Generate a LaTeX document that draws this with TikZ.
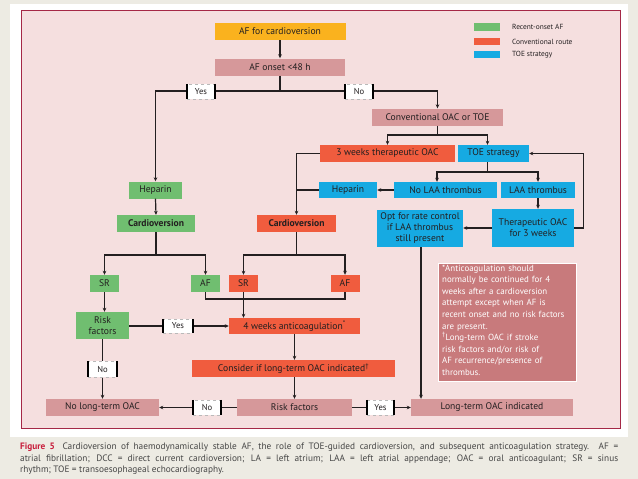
\documentclass[tikz,border=0pt]{standalone}
\usepackage{fontspec}
\setmainfont{PT Sans}
\usetikzlibrary{arrows.meta}
\definecolor{bgout}{RGB}{237,235,227}
\definecolor{panel}{RGB}{245,223,223}
\definecolor{panelborder}{RGB}{165,40,70}
\definecolor{corange}{RGB}{250,178,30}
\definecolor{cpink}{RGB}{214,152,154}
\definecolor{cgreen}{RGB}{112,190,112}
\definecolor{cred}{RGB}{240,92,62}
\definecolor{cblue}{RGB}{22,170,226}
\definecolor{cnote}{RGB}{200,122,124}
\definecolor{txt}{RGB}{35,31,32}
\definecolor{capred}{RGB}{200,30,60}
\definecolor{capgray}{RGB}{70,70,70}
\newcommand{\fsnode}{\fontsize{9.6}{11}\selectfont}
\begin{document}
\begin{tikzpicture}[x=1pt,y=-1pt,
  box/.style={inner sep=0pt, minimum height=17pt, font=\fsnode, text=txt, align=center},
  conn/.style={draw=txt, line width=1.2pt},
  arr/.style={conn, -{Stealth[length=4pt,width=3.6pt]}},
  barline/.style={draw=black, solid, line width=1.8pt},
  lbl/.style={fill=white, draw=gray!55, dashed, line width=0.4pt, inner sep=0pt,
    minimum height=15pt, font=\fontsize{8.6}{10}\selectfont, text=txt,
    append after command={(\tikzlastnode.north west) edge[barline] (\tikzlastnode.south west)
      (\tikzlastnode.north east) edge[barline] (\tikzlastnode.south east)}},
  legtxt/.style={inner sep=0pt, anchor=west, font=\fontsize{7.4}{8}\selectfont, text=txt}
]
\useasboundingbox (0,0) rectangle (638,479);
\fill[bgout] (0,0) rectangle (638,479);
\fill[white] (10,4) rectangle (628,437);
\filldraw[fill=panel, draw=panelborder, line width=0.6pt] (21,10) rectangle (620,428);

% legend
\fill[cgreen] (474,23) rectangle (500,31);
\fill[cred] (474,38) rectangle (500,45);
\fill[cblue] (474,51) rectangle (500,58);
\node[legtxt] (lg1) at (512,27) {Recent-onset AF};
\node[legtxt] (lg2) at (512,41.5) {Conventional route};
\node[legtxt] (lg3) at (512,54.5) {TOE strategy};

% coordinates for branch levels
\coordinate (j1) at (0,91);
\coordinate (j2) at (0,135);
\coordinate (j3) at (0,172);
\coordinate (j4) at (0,255);
\coordinate (j5) at (0,299);

% nodes
\node[box, fill=corange, minimum width=131pt] (start) at (280,31.5) {AF for cardioversion};
\node[box, fill=cpink, minimum width=130pt] (onset) at (280,67) {AF onset <48 h};
\node[box, fill=cpink, minimum width=131pt] (conv) at (437.5,117) {Conventional OAC or TOE};
\node[box, fill=cred, minimum width=135pt] (wk3) at (387.5,153.5) {3 weeks therapeutic OAC};
\node[box, fill=cblue, minimum width=71pt] (toe) at (493.5,153.5) {TOE strategy};
\node[box, fill=cblue, minimum width=58pt, minimum height=16pt] (hepB) at (348,190) {Heparin};
\node[box, fill=cblue, minimum width=103pt, minimum height=16pt] (nolaa) at (445.5,190) {No LAA thrombus};
\node[box, fill=cblue, minimum width=74pt, minimum height=16pt] (laa) at (538,190) {LAA thrombus};
\node[box, fill=cblue, minimum width=86pt, minimum height=37pt] (opt) at (420,228.5) {Opt for rate control\\if LAA thrombus\\still present};
\node[box, fill=cblue, minimum width=82pt, minimum height=38pt] (ther) at (533,228) {Therapeutic OAC\\for 3 weeks};
\node[box, fill=cgreen, minimum width=53pt] (hepG) at (155.5,190) {Heparin};
\node[box, fill=cgreen, minimum width=78pt, font=\fsnode\bfseries] (cvG) at (156,223.5) {Cardioversion};
\node[box, fill=cred, minimum width=79pt, font=\fsnode\bfseries] (cvR) at (296.5,223.5) {Cardioversion};
\node[box, fill=cgreen, minimum width=29pt] (srG) at (104.5,283.5) {SR};
\node[box, fill=cgreen, minimum width=29pt] (afG) at (205.5,283.5) {AF};
\node[box, fill=cred, minimum width=29pt] (srR) at (243.5,283.5) {SR};
\node[box, fill=cred, minimum width=29pt] (afR) at (345,283.5) {AF};
\node[box, fill=cgreen, minimum width=53pt, minimum height=27pt] (rfG) at (102.5,325.5) {Risk\\factors};
\node[box, fill=cred, minimum width=131pt, minimum height=16pt] (wk4) at (294.5,326) {4 weeks anticoagulation\textsuperscript{*}};
\node[box, fill=cred, minimum width=203pt] (cons) at (293.5,368.5) {Consider if long-term OAC indicated\textsuperscript{†}};
\node[box, fill=cpink, minimum width=115pt] (rfP) at (294.5,407.5) {Risk factors};
\node[box, fill=cpink, minimum width=113pt] (nolt) at (102.5,407.5) {No long-term OAC};
\node[box, fill=cpink, minimum width=162pt] (lt) at (492,407.5) {Long-term OAC indicated};
\node[fill=cnote, draw=white, line width=0.8pt, minimum width=138pt, minimum height=118pt, inner sep=0pt] (note) at (507,322) {};
\node[inner sep=0pt, anchor=north west, text width=134pt, align=left, text=white,
  font=\fontsize{8.9}{11.6}\selectfont] (notetxt) at (442,264.5) {*Anticoagulation should\\normally be continued for 4\\weeks after a cardioversion\\attempt except when AF is\\recent onset and no risk factors\\are present.\\\textsuperscript{†}Long-term OAC if stroke\\risk factors and/or risk of\\AF recurrence/presence of\\thrombus.};

% connectors
\draw[arr] (start.south) -- (onset.north);
\draw[conn] (onset.south) -- (onset.south |- j1);
\draw[arr] (onset.south |- j1) -| (hepG.north);
\draw[arr] (onset.south |- j1) -| (conv.north);
\draw[conn] (conv.south) -- (conv.south |- j2);
\draw[arr] (conv.south |- j2) -| (wk3.north);
\coordinate (toeN) at ([xshift=-6pt]toe.north);
\coordinate (toeS) at ([xshift=-6pt]toe.south);
\coordinate (nolaaN) at ([xshift=-8.5pt]nolaa.north);
\draw[arr] (conv.south |- j2) -| (toeN);
\draw[arr] (wk3.west) -| (cvR.north);
\draw[conn] (hepB.west) -- (hepB.west -| cvR.north);
\draw[arr] (nolaa.west) -- (hepB.east);
\draw[conn] (toeS) -- (toeS |- j3);
\draw[arr] (toeS |- j3) -| (nolaaN);
\draw[arr] (toeS |- j3) -| (laa.north);
\draw[arr] (laa.south) -- (laa.south |- ther.north);
\draw[arr] (ther.west) -- (ther.west -| opt.east);
\draw[arr] (ther.east) -- ++(9,0) |- (toe.east);
\coordinate (optS) at ([xshift=1pt]opt.south);
\draw[arr] (optS) -- (optS |- lt.north);
\draw[arr] (hepG.south) -- (cvG.north);
\draw[conn] (cvG.south) -- (cvG.south |- j4);
\draw[arr] (cvG.south |- j4) -| (srG.north);
\draw[arr] (cvG.south |- j4) -| (afG.north);
\draw[conn] (cvR.south) -- (cvR.south |- j4);
\draw[arr] (cvR.south |- j4) -| (srR.north);
\draw[arr] (cvR.south |- j4) -| (afR.north);
\draw[conn] (afG.south) -- (afG.south |- j5) -- (afR.south |- j5) -- (afR.south);
\draw[arr] (srR.south) -- (srR.south |- wk4.north);
\draw[arr] (srG.south) -- (srG.south |- rfG.north);
\draw[arr] (rfG.east |- wk4.west) -- (wk4.west);
\draw[arr] (rfG.south) -- (rfG.south |- nolt.north);
\draw[arr] (wk4.south) -- (wk4.south |- cons.north);
\draw[arr] (cons.south -| rfP.north) -- (rfP.north);
\draw[arr] (rfP.west) -- (nolt.east);
\draw[arr] (rfP.east) -- (lt.west);

% decision labels
\node[lbl, minimum width=28pt] (yes1) at (201,91.5) {Yes};
\node[lbl, minimum width=28pt] (no1) at (359,91.5) {No};
\node[lbl, minimum width=30pt, minimum height=14pt] (yes2) at (178,326) {Yes};
\node[lbl, minimum width=29pt, minimum height=16pt] (no2) at (102.5,369) {No};
\node[lbl, minimum width=28pt] (no3) at (207,407.5) {No};
\node[lbl, minimum width=27pt] (yes3) at (380.5,407.5) {Yes};

% caption
\node[inner sep=0pt, anchor=north west, text width=598pt, align=justify, text=capgray,
  font=\fontsize{9.3}{11.5}\selectfont] (cap) at (20,443)
  {\hyphenpenalty=10000 {\color{capred}\bfseries Figure 5}\hspace{3pt} Cardioversion of haemodynamically stable AF, the role of TOE-guided cardioversion, and subsequent anticoagulation strategy. AF~=\linebreak atrial fibrillation; DCC = direct current cardioversion; LA = left atrium; LAA = left atrial appendage; OAC = oral anticoagulant; SR = sinus\linebreak rhythm; TOE = transoesophageal echocardiography.};
\end{tikzpicture}
\end{document}
